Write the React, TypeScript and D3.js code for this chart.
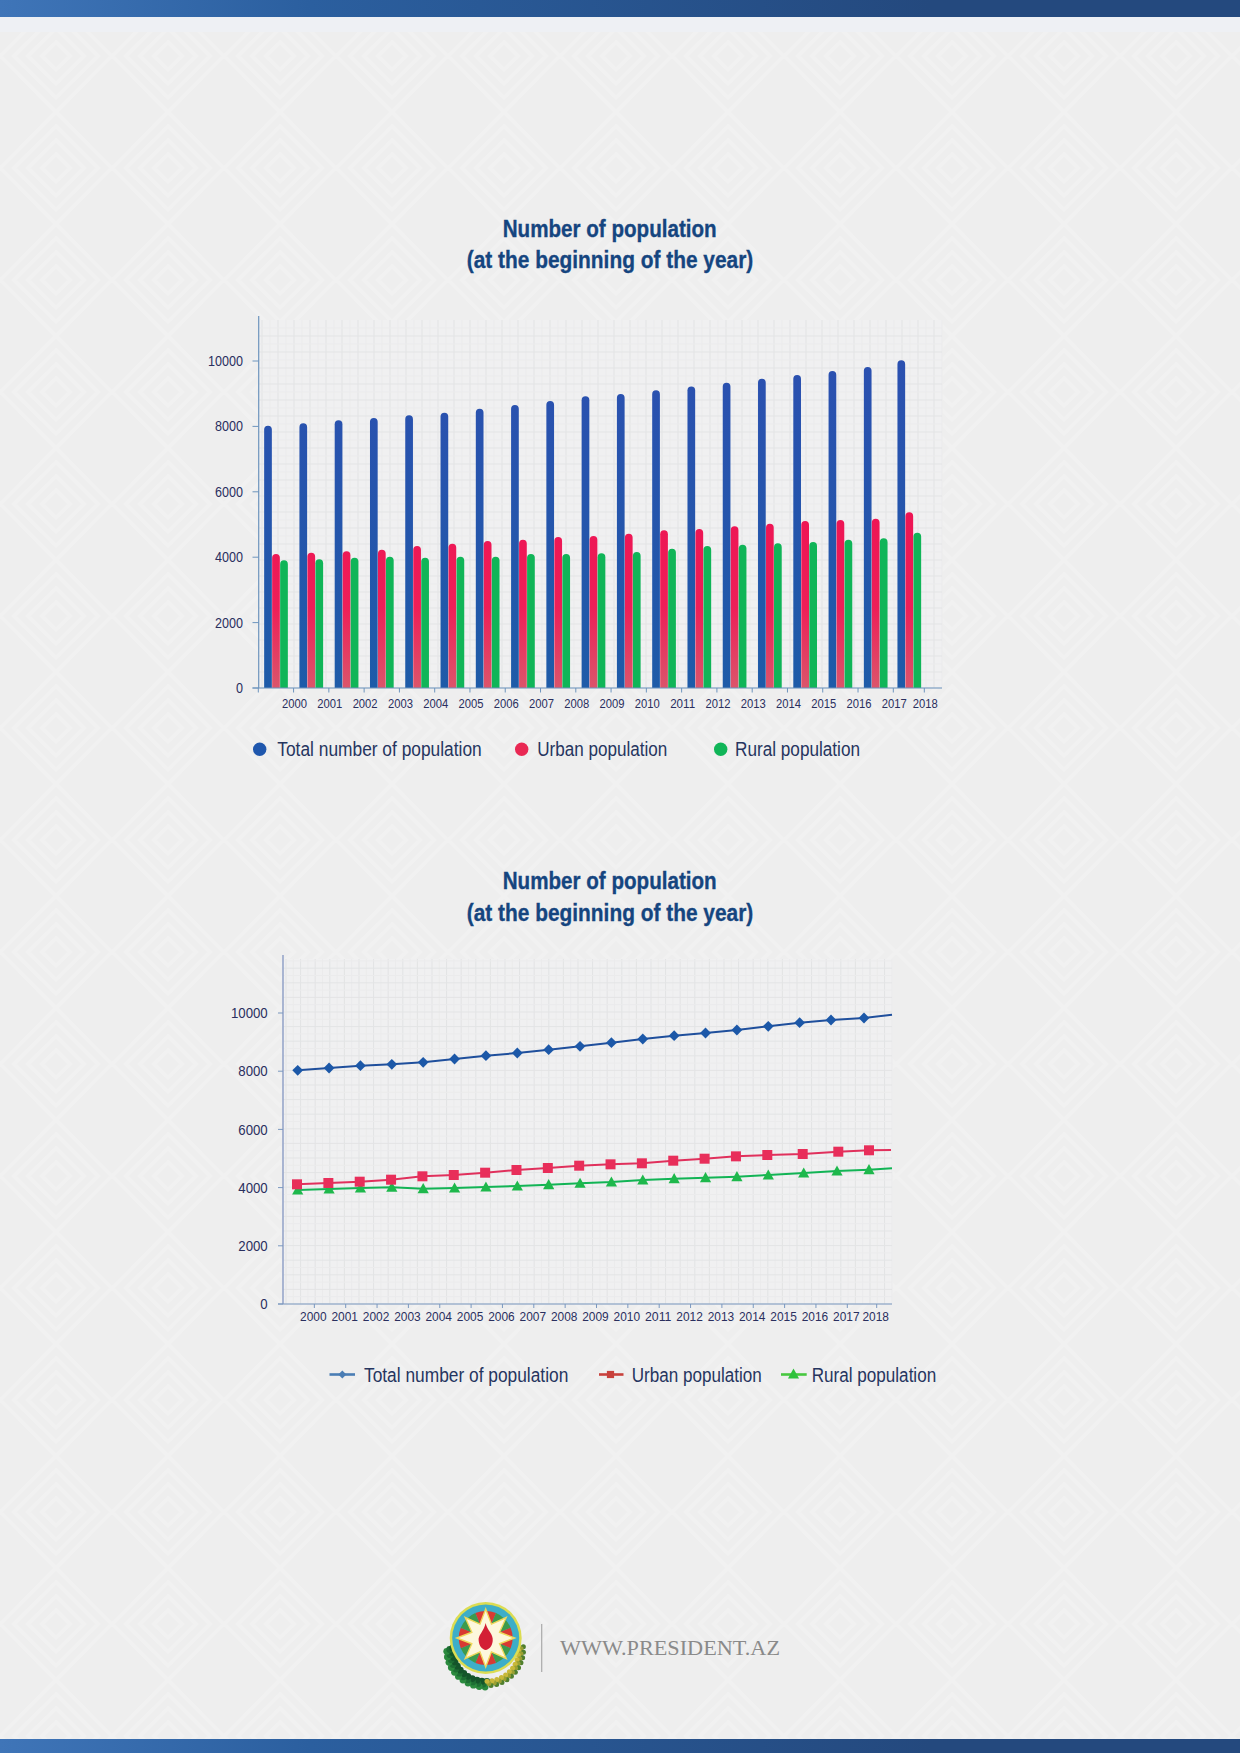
import React from "react";
import * as d3 from "d3";

const years = d3.range(2000, 2019).map(String);
const yTicks = [0, 2000, 4000, 6000, 8000, 10000];

// chart 1 (bars)
const barTotal = [8021, 8094, 8186, 8257, 8339, 8419, 8541, 8654, 8777, 8919, 8990, 9103, 9224, 9337, 9459, 9572, 9694, 9817, 10021];
const barUrban = [4098, 4138, 4180, 4230, 4342, 4413, 4495, 4535, 4618, 4648, 4718, 4822, 4862, 4945, 5025, 5107, 5138, 5178, 5373];
const barRural = [3905, 3935, 3985, 4016, 3985, 4016, 4016, 4098, 4098, 4118, 4159, 4260, 4342, 4383, 4424, 4465, 4535, 4576, 4750];

// chart 2 (lines); the last value of each list is where the line stops, with no marker
const lineTotal = [8031, 8110, 8190, 8236, 8305, 8419, 8533, 8625, 8739, 8854, 8980, 9107, 9220, 9313, 9416, 9543, 9667, 9760, 9828, 9942];
const lineUrban = [4113, 4158, 4203, 4272, 4388, 4433, 4512, 4605, 4674, 4753, 4800, 4835, 4925, 4993, 5074, 5120, 5155, 5234, 5282, 5292];
const lineRural = [3918, 3952, 3986, 4010, 3962, 3986, 4021, 4055, 4100, 4148, 4192, 4261, 4306, 4340, 4375, 4433, 4502, 4570, 4615, 4663];

const titleLine1 = "Number of population";
const titleLine2 = "(at the beginning of the year)";
const nameTotal = "Total number of population";
const nameUrban = "Urban population";
const nameRural = "Rural population";
const siteName = "WWW.PRESIDENT.AZ";

const SANS = "'Liberation Sans', Arial, sans-serif";
const INK = "#2a2f5e";
const LEGEND_INK = "#26355f";
const TITLE = "#15457f";

function Title({ y1, y2 }: { y1: number; y2: number }) {
  const common = {
    fontFamily: SANS, fontWeight: 700, fontSize: 24, fill: TITLE, stroke: TITLE, strokeWidth: 0.35,
    lengthAdjust: "spacingAndGlyphs",
  } as const;
  return (
    <g>
      <text x={502.7} y={y1} textLength={214} {...common}>{titleLine1}</text>
      <text x={466.7} y={y2} textLength={286.6} {...common}>{titleLine2}</text>
    </g>
  );
}

function LegendText({ x, w, y, children }: { x: number; w: number; y: number; children: string }) {
  return (
    <text x={x} y={y} textLength={w} lengthAdjust="spacingAndGlyphs" fontFamily={SANS} fontSize={20} fill={LEGEND_INK}>
      {children}
    </text>
  );
}

function TickText({ x, y, w, size, anchor, children }: { x: number; y: number; w: number; size: number; anchor: "end" | "middle"; children: string }) {
  return (
    <text x={x} y={y} textAnchor={anchor} textLength={w} lengthAdjust="spacingAndGlyphs" fontFamily={SANS} fontSize={size} fill={INK}>
      {children}
    </text>
  );
}

function Grid({ x0, x1, y0, y1, sx, sy }: { x0: number; x1: number; y0: number; y1: number; sx: number; sy: number }) {
  return (
    <g>
      <rect x={x0} y={y0 + 4} width={x1 - x0} height={y1 - y0 - 4} fill="#f0f0f1" />
      {d3.range(x0 + 3, x1 + 0.5, sx / 2).map((x, i) => (
        <line key={"v" + i} x1={x} x2={x} y1={y0 + 4} y2={y1} stroke={i % 2 === 0 ? "#e2e3e4" : "#ebebec"} strokeWidth={1} />
      ))}
      {d3.range(y1, y0 + 4, -sy / 2).map((y, i) => (
        <line key={"h" + i} x1={x0} x2={x1} y1={y} y2={y} stroke={i % 2 === 0 ? "#e3e4e5" : "#ebebec"} strokeWidth={1} />
      ))}
    </g>
  );
}

function BarChart() {
  const y = d3.scaleLinear().domain([0, 10000]).range([688, 361]);
  const barX = d3.scaleLinear().domain([0, 17, 18]).range([268, 867.7, 901.3]);
  const tickX = d3.scaleLinear().domain([0, 18, 19]).range([258.3, 893.3, 924.3]);
  const series = [
    { key: "total", values: barTotal, fill: "url(#gBlue)" },
    { key: "urban", values: barUrban, fill: "url(#gRed)" },
    { key: "rural", values: barRural, fill: "#10b558" },
  ];
  const offset = d3.scalePoint<string>().domain(series.map((s) => s.key)).range([0, 16]);
  const w = 7.7;
  const barPath = (cx: number, v: number) => {
    const p = d3.path();
    const r = w / 2;
    p.moveTo(cx - r, y(0));
    p.lineTo(cx - r, y(v) + r);
    p.arc(cx, y(v) + r, r, Math.PI, 0);
    p.lineTo(cx + r, y(0));
    p.closePath();
    return p.toString();
  };
  return (
    <g>
      <Title y1={237.3} y2={267.7} />
      <Grid x0={259} x1={942} y0={316} y1={688} sx={16} sy={16} />
      {series.map((s) =>
        s.values.map((v, i) => (
          <path key={s.key + i} d={barPath(barX(i) + (offset(s.key) as number), v)} fill={s.fill} />
        ))
      )}
      <line x1={258.7} x2={258.7} y1={316} y2={688} stroke="#6d94bd" strokeWidth={1.2} />
      <line x1={252.5} x2={942} y1={688} y2={688} stroke="#6d94bd" strokeWidth={1.2} />
      {yTicks.map((t) => (
        <g key={t}>
          <line x1={252.5} x2={258.7} y1={y(t)} y2={y(t)} stroke="#6d94bd" />
          <TickText x={243} y={y(t) + 5} w={String(t).length * 7} size={14} anchor="end">{String(t)}</TickText>
        </g>
      ))}
      <line x1={tickX(0)} x2={tickX(0)} y1={688} y2={692.5} stroke="#6d94bd" />
      {years.map((l, i) => (
        <g key={l}>
          <line x1={tickX(i + 1)} x2={tickX(i + 1)} y1={688} y2={692.5} stroke="#6d94bd" />
          <TickText x={tickX(i + 1) + 1} y={707.5} w={25} size={12.5} anchor="middle">{l}</TickText>
        </g>
      ))}
      <circle cx={259.7} cy={749.3} r={6.7} fill="#1f57ad" />
      <LegendText x={277.3} w={204.4} y={756}>{nameTotal}</LegendText>
      <circle cx={521.7} cy={749.3} r={6.7} fill="#e92853" />
      <LegendText x={537.3} w={130} y={756}>{nameUrban}</LegendText>
      <circle cx={720.7} cy={749.3} r={6.7} fill="#10b558" />
      <LegendText x={735} w={125} y={756}>{nameRural}</LegendText>
    </g>
  );
}

const diamondPath = (cx: number, cy: number, r: number) =>
  d3.line()([[cx, cy - r], [cx + r, cy], [cx, cy + r], [cx - r, cy]])! + "Z";
const squarePath = (cx: number, cy: number, r: number) =>
  d3.line()([[cx - r, cy - r], [cx + r, cy - r], [cx + r, cy + r], [cx - r, cy + r]])! + "Z";
const trianglePath = (cx: number, cy: number, r: number) =>
  d3.line()([[cx, cy - r], [cx + r, cy + r * 0.8], [cx - r, cy + r * 0.8]])! + "Z";

function LineChart() {
  const y = d3.scaleLinear().domain([0, 10000]).range([1304, 1013]);
  const tickX = d3.scaleLinear().domain([0, 18, 19]).range([283, 847.3, 876.7]);
  const series = [
    {
      key: "rural", values: lineRural, stroke: "#12b455", fill: "#1eb84c", shape: trianglePath, size: 5.6,
      x: d3.scaleLinear().domain([0, 15, 16, 17, 18, 19]).range([297.7, 768.3, 803.7, 837, 869, 892]),
    },
    {
      key: "urban", values: lineUrban, stroke: "#e0305c", fill: "#e82e5a", shape: squarePath, size: 5,
      x: d3.scaleLinear().domain([0, 15, 16, 17, 18, 19]).range([297, 767.3, 802.7, 838.3, 869, 891]),
    },
    {
      key: "total", values: lineTotal, stroke: "#1f4f9c", fill: "#1c58a8", shape: diamondPath, size: 5.4,
      x: d3.scaleLinear().domain([0, 17, 18, 19]).range([297.7, 831, 864, 892]),
    },
  ];
  return (
    <g>
      <Title y1={889.3} y2={920.7} />
      <Grid x0={283} x1={892} y0={955} y1={1304} sx={14.6} sy={14.6} />
      {series.map((s) => (
        <g key={s.key}>
          <path
            d={d3.line<number>().x((_, i) => s.x(i)).y((v) => y(v))(s.values)!}
            fill="none"
            stroke={s.stroke}
            strokeWidth={2}
          />
          {s.values.slice(0, -1).map((v, i) => (
            <path key={i} d={s.shape(s.x(i), y(v), s.size)} fill={s.fill} />
          ))}
        </g>
      ))}
      <line x1={283} x2={283} y1={955} y2={1304} stroke="#97a6ca" strokeWidth={1.6} />
      <line x1={278} x2={892} y1={1304} y2={1304} stroke="#7a98bf" strokeWidth={1.2} />
      {yTicks.map((t) => (
        <g key={t}>
          <line x1={278} x2={283} y1={y(t)} y2={y(t)} stroke="#7a98bf" />
          <TickText x={267.7} y={y(t) + 5.2} w={String(t).length * 7.35} size={14.5} anchor="end">{String(t)}</TickText>
        </g>
      ))}
      {years.map((l, i) => (
        <g key={l}>
          <line x1={tickX(i + 1)} x2={tickX(i + 1)} y1={1304} y2={1308} stroke="#7a98bf" />
          <TickText x={tickX(i + 1) - 1} y={1320.5} w={26.5} size={13} anchor="middle">{l}</TickText>
        </g>
      ))}
      <line x1={329.5} x2={355} y1={1374.5} y2={1374.5} stroke="#4a7db4" strokeWidth={2.6} />
      <path d={diamondPath(342.3, 1374.5, 4)} fill="#4a7db4" />
      <LegendText x={364} w={204.3} y={1381.8}>{nameTotal}</LegendText>
      <line x1={599} x2={623.5} y1={1374.5} y2={1374.5} stroke="#c8413c" strokeWidth={2.6} />
      <path d={squarePath(610.5, 1374.5, 3.6)} fill="#c8413c" />
      <LegendText x={631.7} w={130} y={1381.8}>{nameUrban}</LegendText>
      <line x1={781} x2={806.7} y1={1374.5} y2={1374.5} stroke="#47c73f" strokeWidth={2.6} />
      <path d={trianglePath(793.5, 1374, 5.5)} fill="#2fc23c" />
      <LegendText x={811.7} w={124.5} y={1381.8}>{nameRural}</LegendText>
    </g>
  );
}

function Emblem() {
  const cx = 485.7;
  const cy = 1638;
  const star = d3.lineRadial<number>()
    .angle((_, i) => (i * Math.PI) / 8)
    .radius((r) => r)
    .curve(d3.curveLinearClosed)(d3.range(16).map((i) => (i % 2 === 0 ? 29 : 15)))!;
  const wedge = d3.arc<number>().innerRadius(11).outerRadius(27);
  const leaves = d3.range(0, 34).map((i) => {
    const a = (Math.PI / 180) * (88 + i * 2.9);
    const rad = 33 + ((i * 5) % 3) * 3;
    return { x: cx + rad * Math.cos(a), y: cy + 12 + rad * Math.sin(a) * 0.95 };
  });
  const wheat = d3.range(0, 34).map((i) => {
    const a = (Math.PI / 180) * (-8 + i * 2.9);
    const rad = 33 + ((i * 5) % 3) * 2.4;
    return { x: cx + rad * Math.cos(a), y: cy + 12 + rad * Math.sin(a) * 0.95 };
  });
  return (
    <g>
      {leaves.map((p, i) => (
        <circle key={i} cx={p.x} cy={p.y} r={3.4} fill={i % 3 === 0 ? "#14552a" : i % 3 === 1 ? "#2b8a3e" : "#1d6e33"} />
      ))}
      {wheat.map((p, i) => (
        <circle key={i} cx={p.x} cy={p.y} r={2.5} fill={i % 3 === 0 ? "#c8b83a" : i % 3 === 1 ? "#4f7f2e" : "#9aa033"} />
      ))}
      <circle cx={cx} cy={cy} r={36} fill="#dcdc52" />
      <circle cx={cx} cy={cy} r={33.5} fill="#3eaec8" />
      <g transform={`translate(${cx},${cy})`}>
        {d3.range(16).map((i) => (
          <path
            key={i}
            d={wedge({ startAngle: (i * Math.PI) / 8, endAngle: ((i + 1) * Math.PI) / 8 } as any) || ""}
            fill={(i + 1) % 4 < 2 ? "#d83a32" : "#3d9a4c"}
          />
        ))}
        <path d={star} fill="#fdf7dc" stroke="#efd85a" strokeWidth={1.4} />
        <path d="M0,-15 C1,-8 8,-4 7,3 C6.5,8 3.5,11.5 0,12 C-3.5,11.5 -6.5,8 -7,3 C-8,-3 -2,-6 0,-15Z" fill="#d31f35" />
      </g>
    </g>
  );
}

export default function App() {
  return (
    <svg
      width={1240}
      height={1753}
      viewBox="0 0 1240 1753"
      style={{ position: "absolute", left: 0, top: 0, display: "block" }}
    >
      <defs>
        <pattern id="bgDiamonds" width={112} height={112} patternUnits="userSpaceOnUse">
          <rect width={112} height={112} fill="#eeeeee" />
          {[56, 42, 28, 14].map((r) => (
            <path key={r} d={diamondPath(56, 56, r)} fill="none" stroke="#f1f1f1" strokeWidth={4} />
          ))}
        </pattern>
        <linearGradient id="gBand" x1="0" x2="1" y1="0" y2="0">
          <stop offset="0" stopColor="#3f75b8" />
          <stop offset="0.25" stopColor="#2b5f9f" />
          <stop offset="0.75" stopColor="#24497e" />
          <stop offset="1" stopColor="#24497e" />
        </linearGradient>
        <linearGradient id="gBlue" gradientUnits="userSpaceOnUse" x1="0" x2="0" y1="360" y2="688">
          <stop offset="0" stopColor="#2b50b0" />
          <stop offset="1" stopColor="#1e5ba8" />
        </linearGradient>
        <linearGradient id="gRed" gradientUnits="userSpaceOnUse" x1="0" x2="0" y1="510" y2="688">
          <stop offset="0" stopColor="#ee1454" />
          <stop offset="0.55" stopColor="#ee1f58" />
          <stop offset="1" stopColor="#db556b" />
        </linearGradient>
      </defs>
      <rect width={1240} height={1753} fill="url(#bgDiamonds)" />
      <rect y={17} width={1240} height={15} fill="#eef0f4" />
      <rect width={1240} height={17} fill="url(#gBand)" />
      <rect y={1739} width={1240} height={14} fill="url(#gBand)" />
      <BarChart />
      <LineChart />
      <Emblem />
      <line x1={541.7} x2={541.7} y1={1624} y2={1672} stroke="#a9a9a9" strokeWidth={1.2} />
      <text x={560} y={1655} textLength={220} lengthAdjust="spacingAndGlyphs" fontFamily="'Liberation Serif', serif" fontSize={21} fill="#8a8a8a">
        {siteName}
      </text>
    </svg>
  );
}
